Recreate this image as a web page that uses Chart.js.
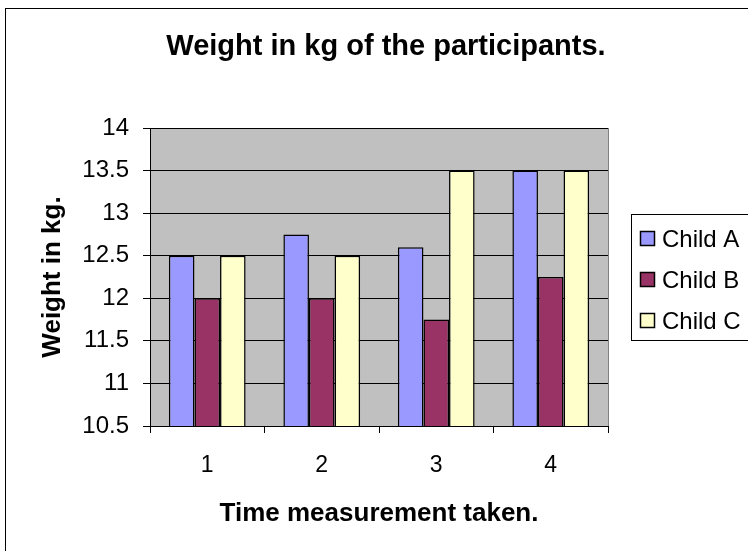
<!DOCTYPE html>
<html>
<head>
<meta charset="utf-8">
<script src="https://cdn.jsdelivr.net/npm/chart.js@4.4.1/dist/chart.umd.min.js"></script>
<style>
  html, body { margin: 0; padding: 0; background: #fff; overflow: hidden; }
</style>
</head>
<body>
<canvas id="chart" width="748" height="551"></canvas>
<script>
const categories = ['1', '2', '3', '4'];
const seriesNames = ['Child A', 'Child B', 'Child C'];
const childA = [12.5, 12.75, 12.6, 13.5];
const childB = [12, 12, 11.75, 12.25];
const childC = [12.5, 12.5, 13.5, 13.5];
const seriesColors = ['#9999FF', '#993366', '#FFFFCC'];
const chartTitle = 'Weight in kg of the participants.';

const FONT = "'Liberation Sans', Arial, sans-serif";

// grey plot area, frame, title and outer chart border
const frame = {
  id: 'frame',
  beforeDraw(chart) {
    const { ctx, chartArea: a } = chart;
    ctx.save();
    ctx.fillStyle = '#C0C0C0';
    ctx.fillRect(a.left, a.top, a.right - a.left, a.bottom - a.top);
    ctx.restore();
  },
  beforeDatasetsDraw(chart) {
    const { ctx, chartArea: a } = chart;
    ctx.save();
    ctx.strokeStyle = '#808080';
    ctx.lineWidth = 1;
    ctx.beginPath();
    ctx.moveTo(a.right + 0.5, a.top);
    ctx.lineTo(a.right + 0.5, a.bottom);
    ctx.stroke();
    ctx.restore();
  },
  afterDraw(chart) {
    const { ctx } = chart;
    ctx.save();
    ctx.fillStyle = '#000';
    ctx.font = 'bold 29px ' + FONT;
    ctx.textAlign = 'center';
    ctx.textBaseline = 'middle';
    ctx.fillText(chartTitle, 386, 47);
    ctx.strokeStyle = '#000';
    ctx.lineWidth = 1;
    ctx.strokeRect(5.5, 8.5, 800, 600);
    ctx.restore();
  }
};

// Excel style legend box on the right
const boxLegend = {
  id: 'boxLegend',
  afterDraw(chart) {
    const { ctx } = chart;
    const x0 = 631, y0 = 214, rowH = 41;
    ctx.save();
    ctx.strokeStyle = '#000';
    ctx.lineWidth = 1;
    ctx.strokeRect(x0 + 0.5, y0 + 0.5, 200, 126);
    ctx.font = '24px ' + FONT;
    ctx.textBaseline = 'middle';
    chart.data.datasets.forEach((ds, i) => {
      const cy = y0 + 25 + i * rowH;
      ctx.fillStyle = ds.backgroundColor;
      ctx.fillRect(x0 + 9.5, cy - 7.5, 14, 14);
      ctx.lineWidth = 1.5;
      ctx.strokeRect(x0 + 9.5, cy - 7.5, 14, 14);
      ctx.fillStyle = '#000';
      ctx.fillText(ds.label, x0 + 31, cy + 1);
    });
    ctx.restore();
  }
};

new Chart(document.getElementById('chart'), {
  type: 'bar',
  data: {
    labels: categories,
    datasets: [childA, childB, childC].map((vals, i) => ({
      label: seriesNames[i],
      data: vals,
      backgroundColor: seriesColors[i],
      borderColor: '#000',
      borderWidth: 1.5,
      borderSkipped: false,
      categoryPercentage: 0.67,
      barPercentage: 1
    }))
  },
  options: {
    responsive: false,
    animation: false,
    devicePixelRatio: 1,
    layout: { padding: { left: 0, right: 140, top: 128, bottom: 0 } },
    plugins: {
      legend: { display: false },
      tooltip: { enabled: false },
      title: { display: false }
    },
    scales: {
      x: {
        grid: { offset: true, drawOnChartArea: false, color: '#000', tickLength: 7 },
        border: { color: '#000' },
        ticks: { color: '#000', font: { family: FONT, size: 23 }, padding: 19 },
        title: {
          display: true,
          text: 'Time measurement taken.',
          color: '#000',
          font: { family: FONT, size: 26, weight: 'bold' },
          padding: { top: 0, bottom: 22 }
        },
        afterFit(s) { s.height = 125; }
      },
      y: {
        min: 10.5,
        max: 14,
        grid: { color: '#000', tickLength: 7 },
        border: { color: '#000' },
        ticks: {
          stepSize: 0.5,
          color: '#000',
          font: { family: FONT, size: 24 },
          padding: 14,
          callback: v => String(v)
        },
        title: {
          display: true,
          text: 'Weight in kg.',
          color: '#000',
          font: { family: FONT, size: 26, weight: 'bold' },
          padding: { top: 37, bottom: 0 }
        },
        afterFit(s) { s.width = 150; }
      }
    }
  },
  plugins: [frame, boxLegend]
});
</script>
</body>
</html>
